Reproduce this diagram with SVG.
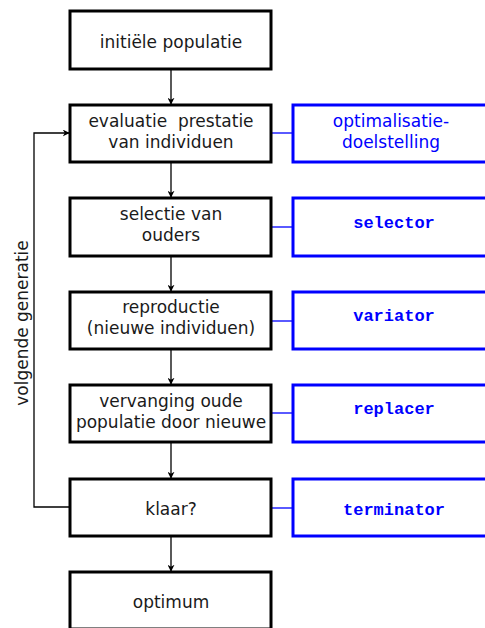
<svg xmlns="http://www.w3.org/2000/svg" width="485" height="628" viewBox="0 0 485 628">
  <style>
    .step { fill: #ffffff; stroke: #000000; stroke-width: 3; }
    .tool { fill: #ffffff; stroke: #0000ff; stroke-width: 3; }
    .label { font-family: "DejaVu Sans", sans-serif; font-size: 17px; fill: #1a1a1a; text-anchor: middle; }
    .soft { font-family: "DejaVu Sans", sans-serif; font-size: 17px; fill: #0000ff; text-anchor: middle; }
    .code { font-family: "Liberation Mono", monospace; font-size: 17px; font-weight: bold; fill: #0000ff; text-anchor: middle; }
    .flow { fill: none; stroke: #000000; stroke-width: 1.3; }
    .link { fill: none; stroke: #0000ff; stroke-width: 1.3; }
  </style>
  <defs>
    <marker id="arrow" viewBox="0 0 10 10" refX="9" refY="5" markerWidth="7" markerHeight="7" orient="auto" markerUnits="userSpaceOnUse">
      <path d="M0,0 L10,5 L0,10 L3,5 Z" fill="#000000"/>
    </marker>
  </defs>

  <rect width="485" height="628" fill="#ffffff"/>

  <g id="connectors">
    <line class="flow" x1="171" y1="69" x2="171" y2="104" marker-end="url(#arrow)"/>
    <line class="flow" x1="171" y1="162" x2="171" y2="197" marker-end="url(#arrow)"/>
    <line class="flow" x1="171" y1="256" x2="171" y2="291" marker-end="url(#arrow)"/>
    <line class="flow" x1="171" y1="349" x2="171" y2="384" marker-end="url(#arrow)"/>
    <line class="flow" x1="171" y1="442" x2="171" y2="478" marker-end="url(#arrow)"/>
    <line class="flow" x1="171" y1="536" x2="171" y2="571" marker-end="url(#arrow)"/>
    <polyline class="flow" points="70,507 34,507 34,133 69,133" marker-end="url(#arrow)"/>
    <line class="link" x1="271" y1="133" x2="293" y2="133"/>
    <line class="link" x1="271" y1="227" x2="293" y2="227"/>
    <line class="link" x1="271" y1="321" x2="293" y2="321"/>
    <line class="link" x1="271" y1="413" x2="293" y2="413"/>
    <line class="link" x1="271" y1="508" x2="293" y2="508"/>
    <text class="label" transform="translate(28,323) rotate(-90)">volgende generatie</text>
  </g>

  <g id="initial">
    <rect class="step" x="70" y="11" width="201" height="58"/>
    <text class="label" x="171" y="48">initiële populatie</text>
  </g>
  <g id="evaluate">
    <rect class="step" x="70" y="105" width="201" height="57"/>
    <text class="label" x="171" y="127" xml:space="preserve">evaluatie  prestatie</text>
    <text class="label" x="171" y="148">van individuen</text>
  </g>
  <g id="select">
    <rect class="step" x="70" y="198" width="201" height="58"/>
    <text class="label" x="171" y="220">selectie van</text>
    <text class="label" x="171" y="241">ouders</text>
  </g>
  <g id="reproduce">
    <rect class="step" x="70" y="292" width="201" height="57"/>
    <text class="label" x="171" y="313">reproductie</text>
    <text class="label" x="171" y="334">(nieuwe individuen)</text>
  </g>
  <g id="replace">
    <rect class="step" x="70" y="385" width="201" height="57"/>
    <text class="label" x="171" y="407">vervanging oude</text>
    <text class="label" x="171" y="428">populatie door nieuwe</text>
  </g>
  <g id="done">
    <rect class="step" x="70" y="479" width="201" height="57"/>
    <text class="label" x="171" y="515">klaar?</text>
  </g>
  <g id="optimum">
    <rect class="step" x="70" y="572" width="201" height="57"/>
    <text class="label" x="171" y="608">optimum</text>
  </g>

  <g id="objective">
    <rect class="tool" x="293" y="105" width="200" height="57"/>
    <text class="soft" x="391" y="127">optimalisatie-</text>
    <text class="soft" x="391" y="148">doelstelling</text>
  </g>
  <g id="selector">
    <rect class="tool" x="293" y="198" width="200" height="58"/>
    <text class="code" x="394" y="228">selector</text>
  </g>
  <g id="variator">
    <rect class="tool" x="293" y="292" width="200" height="57"/>
    <text class="code" x="394" y="321">variator</text>
  </g>
  <g id="replacer">
    <rect class="tool" x="293" y="385" width="200" height="57"/>
    <text class="code" x="394" y="414">replacer</text>
  </g>
  <g id="terminator">
    <rect class="tool" x="293" y="479" width="200" height="57"/>
    <text class="code" x="394" y="515">terminator</text>
  </g>
</svg>
